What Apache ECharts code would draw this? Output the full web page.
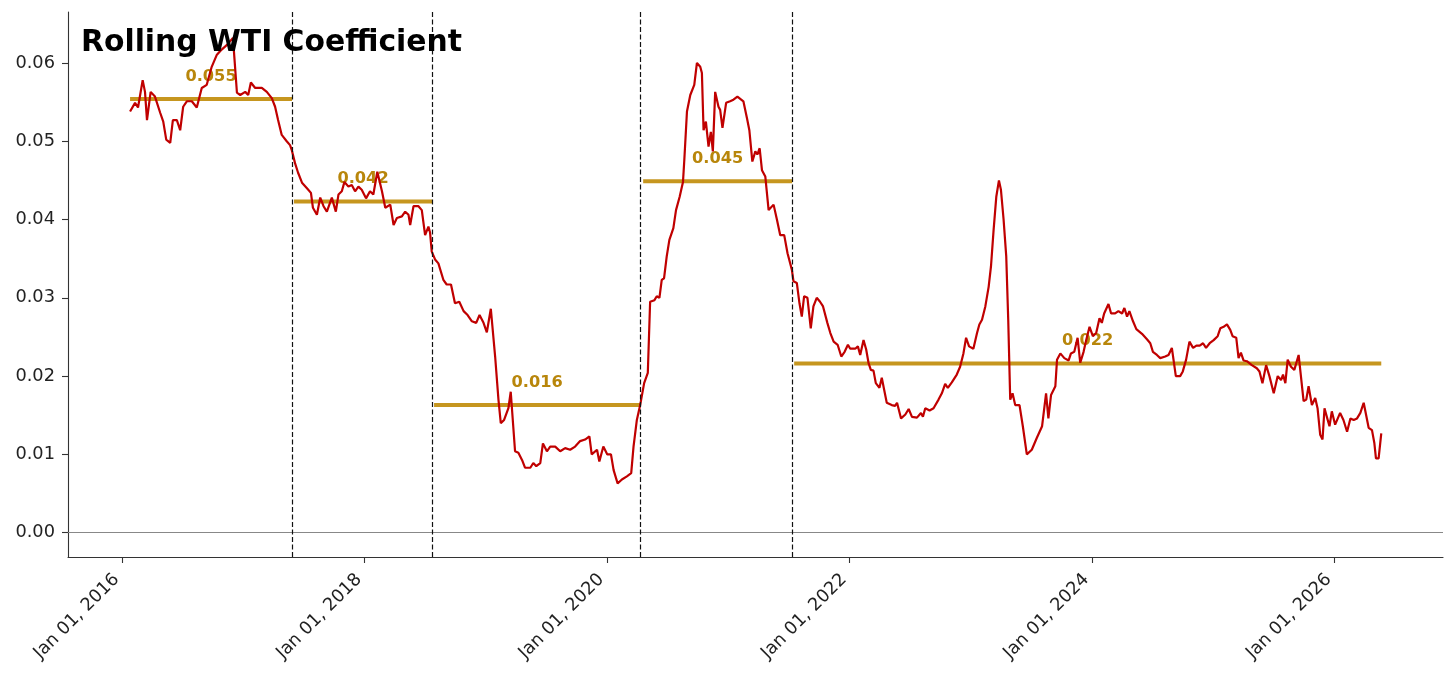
<!DOCTYPE html>
<html>
<head>
<meta charset="utf-8">
<script src="https://cdn.jsdelivr.net/npm/echarts@6/dist/echarts.min.js"></script>
<style>
html,body{margin:0;padding:0;background:#fff}
#chart{width:1456px;height:680px}
</style>
</head>
<body>
<div id="chart"></div>
<script>
// rolling coefficient, sampled dates as days since 2016-01-01
var baseDate = Date.UTC(2016, 0, 1)
var DAY = 86400000

var days = [
  24,39,48,62,69,75,86,99,115,124,133,145,153,165,175,184,195,210,225,240,
  255,270,285,300,316,334,346,356,371,380,388,401,421,436,451,461,470,481,496,506,
  511,521,530,542,557,569,575,587,597,607,617,632,644,652,662,670,682,692,702,712,
  722,735,747,757,769,783,793,808,818,828,843,853,863,868,878,893,903,913,923,928,
  933,943,953,968,978,991,1003,1016,1029,1041,1054,1067,1077,1089,1099,1111,1124,1134,1141,1151,
  1164,1171,1184,1194,1205,1214,1230,1239,1248,1260,1268,1280,1290,1305,1320,1335,1350,1365,1380,1395,
  1408,1415,1431,1438,1450,1462,1473,1481,1493,1506,1521,1534,1541,1551,1561,1573,1584,1591,1604,1611,
  1619,1626,1633,1641,1649,1661,1669,1680,1690,1694,1702,1712,1724,1732,1742,1747,1752,1759,1767,1774,
  1780,1787,1797,1802,1809,1820,1832,1842,1854,1872,1883,1890,1899,1908,1914,1921,1928,1938,1948,1963,
  1973,1983,1995,2005,2018,2023,2033,2041,2048,2055,2065,2075,2083,2093,2103,2112,2118,2125,2134,2144,
  2156,2167,2177,2187,2194,2209,2217,2224,2234,2242,2249,2256,2264,2271,2282,2289,2296,2304,2319,2329,
  2335,2347,2360,2370,2380,2395,2407,2413,2420,2433,2445,2460,2470,2480,2488,2500,2515,2525,2535,2543,
  2552,2565,2576,2583,2591,2601,2611,2618,2626,2634,2642,2648,2656,2664,2670,2676,2683,2691,2704,2714,
  2726,2741,2756,2772,2784,2791,2799,2812,2817,2827,2839,2852,2859,2869,2879,2887,2897,2905,2915,2925,
  2935,2945,2952,2959,2972,2980,2992,3002,3013,3020,3028,3035,3046,3056,3073,3088,3098,3106,3118,3128,
  3143,3153,3163,3175,3188,3196,3206,3216,3227,3237,3247,3257,3266,3277,3289,3301,3309,3319,3329,3339,
  3346,3357,3364,3371,3379,3389,3404,3419,3427,3436,3447,3457,3470,3482,3492,3498,3505,3512,3522,3532,
  3545,3560,3568,3575,3585,3595,3602,3610,3617,3623,3630,3638,3645,3655,3670,3680,3691,3701,3711,3721,
  3731,3741,3756,3766,3773,3778,3786,3794
]

var coef = [
  0.0538,0.0549,0.0543,0.0578,0.0563,0.0527,0.0563,0.0557,0.0536,0.0525,0.0502,0.0498,0.0527,0.0527,0.0514,0.0544,0.0551,0.0551,0.0543,0.0568,
  0.0572,0.0595,0.0610,0.0617,0.0623,0.0632,0.0562,0.0559,0.0563,0.0559,0.0575,0.0568,0.0568,0.0563,0.0555,0.0544,0.0527,0.0508,0.0500,0.0495,
  0.0489,0.0472,0.0460,0.0447,0.0440,0.0434,0.0415,0.0406,0.0428,0.0417,0.0410,0.0428,0.0410,0.0432,0.0436,0.0448,0.0442,0.0444,0.0436,0.0442,
  0.0438,0.0427,0.0436,0.0432,0.0461,0.0436,0.0415,0.0419,0.0393,0.0402,0.0404,0.0410,0.0406,0.0393,0.0417,0.0417,0.0412,0.0380,0.0391,0.0383,
  0.0359,0.0349,0.0344,0.0323,0.0317,0.0317,0.0293,0.0295,0.0283,0.0278,0.0270,0.0268,0.0278,0.0268,0.0256,0.0286,0.0225,0.0170,0.0140,0.0144,
  0.0159,0.0180,0.0104,0.0102,0.0093,0.0083,0.0083,0.0089,0.0085,0.0089,0.0114,0.0104,0.0110,0.0110,0.0104,0.0108,0.0106,0.0110,0.0117,0.0119,
  0.0123,0.0100,0.0106,0.0091,0.0110,0.0100,0.0100,0.0080,0.0063,0.0068,0.0072,0.0076,0.0110,0.0144,0.0163,0.0191,0.0204,0.0295,0.0297,0.0302,
  0.0300,0.0323,0.0325,0.0353,0.0374,0.0389,0.0412,0.0429,0.0448,0.0476,0.0538,0.0559,0.0572,0.0600,0.0595,0.0587,0.0514,0.0525,0.0493,0.0512,
  0.0487,0.0563,0.0544,0.0540,0.0517,0.0549,0.0551,0.0553,0.0557,0.0551,0.0529,0.0514,0.0474,0.0487,0.0483,0.0491,0.0463,0.0455,0.0412,0.0419,
  0.0400,0.0380,0.0380,0.0357,0.0336,0.0321,0.0319,0.0293,0.0276,0.0302,0.0300,0.0261,0.0289,0.0300,0.0295,0.0289,0.0287,0.0268,0.0255,0.0244,
  0.0240,0.0225,0.0231,0.0240,0.0235,0.0235,0.0238,0.0227,0.0246,0.0234,0.0217,0.0208,0.0207,0.0191,0.0185,0.0198,0.0183,0.0166,0.0163,0.0162,
  0.0166,0.0146,0.0151,0.0158,0.0148,0.0147,0.0153,0.0148,0.0159,0.0156,0.0159,0.0170,0.0178,0.0190,0.0185,0.0192,0.0202,0.0212,0.0229,0.0249,
  0.0238,0.0235,0.0255,0.0266,0.0272,0.0289,0.0314,0.0340,0.0387,0.0429,0.0450,0.0438,0.0400,0.0353,0.0272,0.0170,0.0178,0.0163,0.0163,0.0136,
  0.0100,0.0106,0.0121,0.0136,0.0178,0.0146,0.0176,0.0187,0.0221,0.0229,0.0223,0.0220,0.0229,0.0231,0.0249,0.0217,0.0231,0.0246,0.0263,0.0251,
  0.0255,0.0274,0.0268,0.0280,0.0292,0.0280,0.0280,0.0283,0.0280,0.0287,0.0276,0.0283,0.0270,0.0260,0.0254,0.0247,0.0242,0.0231,0.0227,0.0223,
  0.0225,0.0227,0.0236,0.0200,0.0200,0.0206,0.0221,0.0244,0.0236,0.0239,0.0239,0.0242,0.0236,0.0242,0.0246,0.0251,0.0261,0.0263,0.0266,0.0259,
  0.0251,0.0249,0.0223,0.0230,0.0220,0.0219,0.0214,0.0210,0.0206,0.0191,0.0214,0.0200,0.0178,0.0200,0.0195,0.0202,0.0191,0.0221,0.0212,0.0208,
  0.0227,0.0168,0.0170,0.0187,0.0163,0.0172,0.0159,0.0125,0.0119,0.0159,0.0148,0.0136,0.0155,0.0138,0.0153,0.0144,0.0129,0.0146,0.0144,0.0146,
  0.0153,0.0166,0.0134,0.0131,0.0115,0.0095,0.0095,0.0127
]

// regimes (days since 2016-01-01) and their mean coefficient
var regimeStart = [24, 518, 940, 1570, 2025]
var regimeEnd = [512, 934, 1561, 2019, 3794]
var regimeMean = [0.0554, 0.0423, 0.0163, 0.0449, 0.0216]

var tickYears = [2016, 2018, 2020, 2022, 2024, 2026]
var yTicks = [0, 0.01, 0.02, 0.03, 0.04, 0.05, 0.06]

function toTime(d){ return baseDate + d * DAY }

var chart = echarts.init(document.getElementById('chart'))

var lineData = days.map(function(d, i){ return [toTime(d), coef[i]] })
var tickTimes = tickYears.map(function(y){ return Date.UTC(y, 0, 1) })
var breakLines = regimeEnd.slice(0, -1).map(function(d){
  return {xAxis: toTime(d), lineStyle: {color: '#111', width: 1.2, type: [5, 2.5]}}
})

var series = []
regimeMean.forEach(function(m, i){
  series.push({
    type: 'line', silent: true, symbol: 'none', z: 2,
    data: [[toTime(regimeStart[i]), m], [toTime(regimeEnd[i]), m]],
    lineStyle: {color: '#c6961f', width: 4}
  })
})
// mean labels sit under the red line, as in the original
series.push({
  type: 'scatter', symbolSize: 0, z: 2, silent: true,
  itemStyle: {opacity: 1},
  data: regimeMean.map(function(m, i){
    return [toTime((regimeStart[i] + regimeEnd[i]) / 2), m]
  }),
  label: {
    show: true, position: 'top', distance: 14.5, opacity: 1,
    formatter: function(p){ return p.value[1].toFixed(3) },
    color: '#b8860b', fontWeight: 'bold', fontSize: 16.2, fontFamily: 'DejaVu Sans',
    textBorderWidth: 0
  }
})
series.push({
  type: 'line', name: 'coef', symbol: 'none', z: 3, silent: true,
  data: lineData,
  lineStyle: {color: '#c00000', width: 2.2},
  markLine: {
    silent: true, symbol: ['none', 'none'], label: {show: false},
    data: [{yAxis: 0, lineStyle: {color: '#888', width: 1.2, type: 'solid'}}].concat(breakLines)
  }
})

var option = {
  animation: false,
  backgroundColor: '#fff',
  title: {
    text: 'Rolling WTI Coefficient',
    left: 81, top: 28, padding: 0,
    textStyle: {fontSize: 29.8, fontWeight: 'bold', color: '#000', fontFamily: 'DejaVu Sans'}
  },
  grid: {left: 68, right: 13, top: 12, bottom: 123, outerBoundsMode: 'none'},
  xAxis: {
    // timestamps on a plain value axis so the ticks can sit on Jan 1 every 2 years
    type: 'value', scale: true,
    min: Date.UTC(2015, 6, 22), max: Date.UTC(2026, 10, 24),
    axisLine: {onZero: false, lineStyle: {color: '#333', width: 1.1}},
    axisTick: {show: true, customValues: tickTimes, length: 6, lineStyle: {color: '#333', width: 1.1}},
    splitLine: {show: false},
    axisLabel: {
      customValues: tickTimes, rotate: 45, margin: 14, padding: [0, 8, 0, 0],
      fontSize: 17.8, color: '#222', fontFamily: 'DejaVu Sans',
      formatter: function(v){ return 'Jan 01, ' + new Date(v).getUTCFullYear() }
    }
  },
  yAxis: {
    type: 'value', min: -0.0031, max: 0.0665,
    axisLine: {show: true, lineStyle: {color: '#333', width: 1.1}},
    axisTick: {show: true, customValues: yTicks, length: 6, lineStyle: {color: '#333', width: 1.1}},
    splitLine: {show: false},
    axisLabel: {
      customValues: yTicks, margin: 13,
      fontSize: 17.8, color: '#222', fontFamily: 'DejaVu Sans',
      formatter: function(v){ return v.toFixed(2) }
    }
  },
  series: series
}
chart.setOption(option)
</script>
</body>
</html>
